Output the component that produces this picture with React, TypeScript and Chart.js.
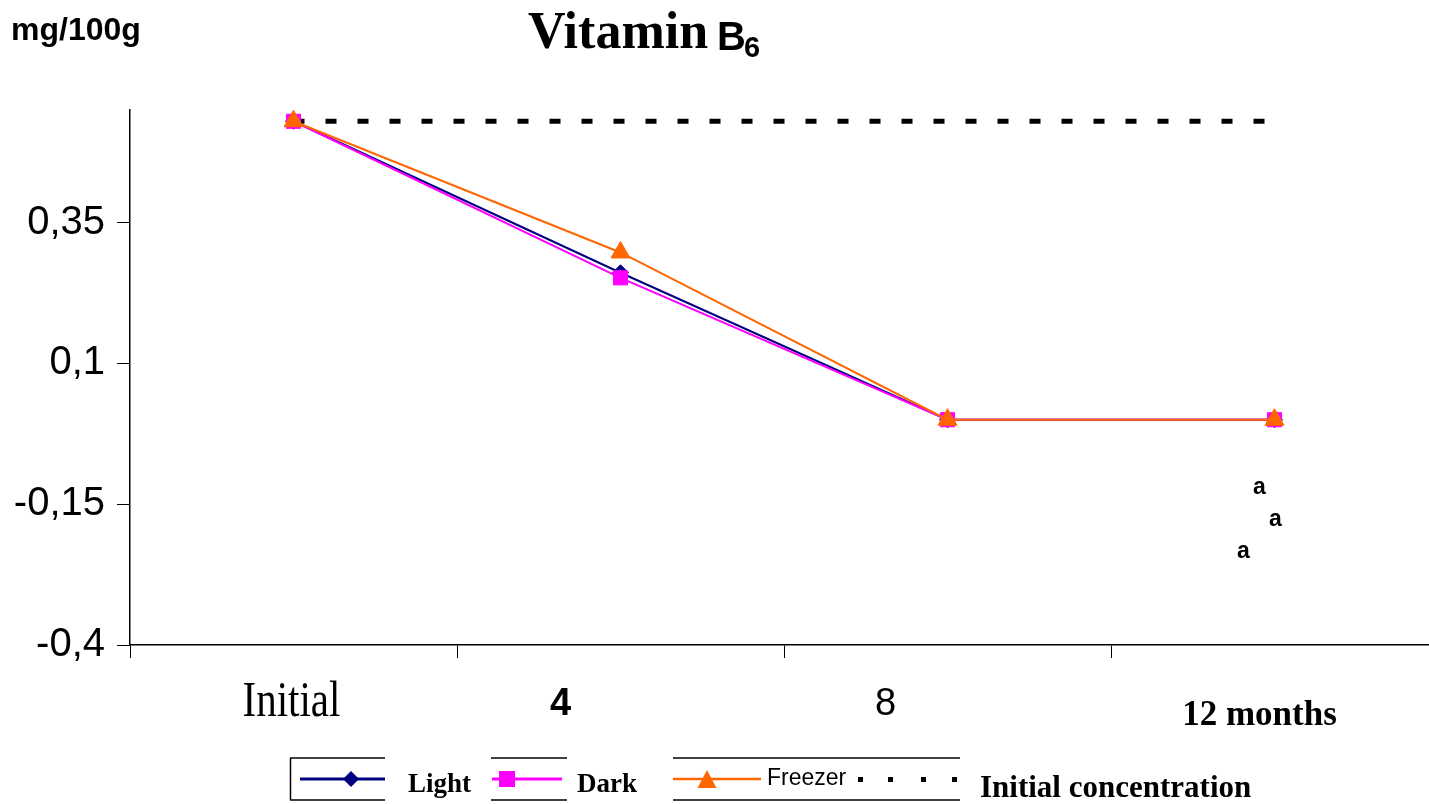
import React, { useEffect, useRef } from 'react';
import { Chart, registerables } from 'chart.js';

Chart.register(...registerables);

// ---- Data ----
const CATEGORIES = ['Initial', '4', '8', '12 months'];
const LIGHT = [0.53, 0.261, 0.0, 0.0];
const DARK = [0.53, 0.252, 0.0, 0.0];
const FREEZER = [0.53, 0.297, 0.0, 0.0];
const INITIAL_CONC = [0.53, 0.53, 0.53, 0.53];
const SERIES_NAMES = ['Light', 'Dark', 'Freezer', 'Initial concentration'];
const Y_TICKS = [-0.4, -0.15, 0.1, 0.35];
const Y_TICK_LABELS = ['-0,4', '-0,15', '0,1', '0,35'];
const LETTERS = ['a', 'a', 'a'];
const LETTER_VALUES = [-0.12, -0.178, -0.235];

const COLORS = ['#000080', '#FF00FF', '#FF6600', '#000000'];

// label styles (fonts / nudges only)
const X_LABEL_STYLE = [
  { font: 'normal 50px "Liberation Serif"', sx: 0.82, dx: -2, y: 703 },
  { font: 'bold 38px "Liberation Sans"', sx: 1, dx: -60, y: 705 },
  { font: 'normal 38px "Liberation Sans"', sx: 1, dx: -62, y: 705 },
  { font: 'bold 35px "Liberation Serif"', sx: 1, dx: -15, y: 716 },
];
const LETTER_DX = [-15, 1, -31];

function drawDiamond(ctx: CanvasRenderingContext2D, x: number, y: number, r: number) {
  ctx.beginPath();
  ctx.moveTo(x, y - r);
  ctx.lineTo(x + r, y);
  ctx.lineTo(x, y + r);
  ctx.lineTo(x - r, y);
  ctx.closePath();
  ctx.fill();
}
function drawTriangle(ctx: CanvasRenderingContext2D, x: number, y: number, w: number, h: number) {
  ctx.beginPath();
  ctx.moveTo(x, y - h / 2);
  ctx.lineTo(x + w / 2, y + h / 2);
  ctx.lineTo(x - w / 2, y + h / 2);
  ctx.closePath();
  ctx.fill();
}

const decorPlugin = {
  id: 'decor',
  afterDraw(chart: any) {
    const ctx: CanvasRenderingContext2D = chart.ctx;
    const xs = chart.scales.x;
    const ys = chart.scales.y;
    ctx.save();
    ctx.fillStyle = '#000';

    // unit label
    ctx.font = 'bold 32px "Liberation Sans"';
    ctx.textBaseline = 'middle';
    ctx.textAlign = 'left';
    ctx.fillText('mg/100g', 11, 31);

    // title
    ctx.textBaseline = 'alphabetic';
    ctx.font = 'bold 52px "Liberation Serif"';
    ctx.fillText('Vitamin', 528, 48);
    ctx.font = 'bold 40px "Liberation Sans"';
    ctx.fillText('B', 717, 50);
    ctx.font = 'bold 29px "Liberation Sans"';
    ctx.fillText('6', 744, 57);

    // x labels
    ctx.textAlign = 'center';
    ctx.textBaseline = 'middle';
    CATEGORIES.forEach((c, i) => {
      const st = X_LABEL_STYLE[i];
      const px = xs.getPixelForValue(i) + st.dx;
      ctx.save();
      ctx.translate(px, st.y);
      ctx.scale(st.sx, 1);
      ctx.font = st.font;
      ctx.fillText(c, 0, 0);
      ctx.restore();
    });

    // significance letters
    ctx.font = 'bold 23px "Liberation Sans"';
    LETTERS.forEach((l, i) => {
      const px = xs.getPixelForValue(CATEGORIES.length - 1) + LETTER_DX[i];
      const py = ys.getPixelForValue(LETTER_VALUES[i]);
      ctx.fillText(l, px, py);
    });

    // legend
    ctx.strokeStyle = '#000';
    ctx.lineWidth = 1.5;
    const hline = (x1: number, x2: number, y: number) => {
      ctx.beginPath(); ctx.moveTo(x1, y); ctx.lineTo(x2, y); ctx.stroke();
    };
    hline(290, 385, 758); hline(290, 385, 800);
    ctx.beginPath(); ctx.moveTo(290.5, 758); ctx.lineTo(290.5, 800); ctx.stroke();
    hline(491, 567, 758); hline(491, 567, 800);
    hline(673, 960, 758); hline(673, 960, 800);

    const ly = 779;
    // Light
    ctx.strokeStyle = COLORS[0]; ctx.fillStyle = COLORS[0]; ctx.lineWidth = 3;
    hline(300, 385, ly);
    drawDiamond(ctx, 351, ly, 8);
    // Dark
    ctx.strokeStyle = COLORS[1]; ctx.fillStyle = COLORS[1]; ctx.lineWidth = 3;
    hline(492, 562, ly);
    ctx.fillRect(499, ly - 8, 16, 16);
    // Freezer
    ctx.strokeStyle = COLORS[2]; ctx.fillStyle = COLORS[2]; ctx.lineWidth = 2.5;
    hline(673, 761, ly);
    drawTriangle(ctx, 707, ly, 19, 18);
    // Initial concentration dots
    ctx.fillStyle = '#000';
    [858, 888, 921, 952].forEach((x) => ctx.fillRect(x, 777, 5, 5));

    ctx.fillStyle = '#000';
    ctx.textAlign = 'left';
    ctx.textBaseline = 'alphabetic';
    ctx.font = 'bold 27px "Liberation Serif"';
    ctx.fillText(SERIES_NAMES[0], 408, 792);
    ctx.fillText(SERIES_NAMES[1], 577, 792);
    ctx.font = 'normal 23px "Liberation Sans"';
    ctx.fillText(SERIES_NAMES[2], 767, 785);
    ctx.font = 'bold 31px "Liberation Serif"';
    ctx.fillText(SERIES_NAMES[3], 980, 797);

    ctx.restore();
  },
};

export default function App() {
  const ref = useRef<HTMLCanvasElement>(null);
  useEffect(() => {
    const chart = new Chart(ref.current as HTMLCanvasElement, {
      type: 'line',
      data: {
        labels: CATEGORIES,
        datasets: [
          {
            label: SERIES_NAMES[0], data: LIGHT, borderColor: COLORS[0], backgroundColor: COLORS[0],
            borderWidth: 2, pointStyle: 'rectRot', pointRadius: 8, pointBorderWidth: 1, order: 2, clip: false,
          } as any,
          {
            label: SERIES_NAMES[1], data: DARK, borderColor: COLORS[1], backgroundColor: COLORS[1],
            borderWidth: 2, pointStyle: 'rect', pointRadius: 10, pointBorderWidth: 1, order: 1, clip: false,
          },
          {
            label: SERIES_NAMES[2], data: FREEZER, borderColor: COLORS[2], backgroundColor: COLORS[2],
            borderWidth: 2, pointStyle: 'triangle', pointRadius: 11, pointBorderWidth: 1, order: 0, clip: false,
          },
          {
            label: SERIES_NAMES[3], data: INITIAL_CONC, borderColor: COLORS[3], backgroundColor: COLORS[3],
            borderWidth: 5, borderDash: [11, 21], pointRadius: 0, order: 3, clip: false,
          },
        ],
      },
      options: {
        responsive: false,
        animation: false,
        events: [],
        layout: { autoPadding: false, padding: { top: 110, left: 0, right: 0, bottom: 0 } },
        plugins: {
          legend: { display: false },
          title: { display: false },
          tooltip: { enabled: false },
        },
        scales: {
          x: {
            offset: true,
            grid: { offset: true, drawOnChartArea: false, tickLength: 13, color: '#000', lineWidth: 1 },
            border: { color: '#000', width: 1.5 },
            ticks: { display: false },
            afterFit: (s: any) => { s.height = 159; },
          },
          y: {
            min: -0.4,
            max: 0.55,
            afterBuildTicks: (s: any) => { s.ticks = Y_TICKS.map((v) => ({ value: v })); },
            ticks: {
              callback: (v: any) => Y_TICK_LABELS[Y_TICKS.indexOf(Number(v))] ?? '',
              font: { family: 'Liberation Sans', size: 40 },
              color: '#000',
              padding: 12,
            },
            grid: { drawOnChartArea: false, tickLength: 13, color: '#000', lineWidth: 1 },
            border: { color: '#000', width: 1.5 },
            afterFit: (s: any) => { s.width = 130; },
          },
        },
      },
      plugins: [decorPlugin],
    });
    return () => chart.destroy();
  }, []);
  return (
    <div style={{ position: 'fixed', left: 0, top: 0, width: 1429, height: 804, overflow: 'hidden', background: '#fff' }}>
      <canvas ref={ref} width={1438} height={804} style={{ display: 'block' }} />
    </div>
  );
}
